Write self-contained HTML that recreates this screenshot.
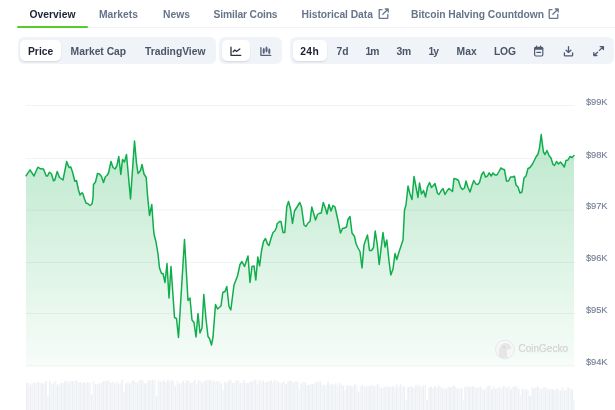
<!DOCTYPE html>
<html><head><meta charset="utf-8">
<style>
*{margin:0;padding:0;box-sizing:border-box}
html,body{width:615px;height:410px;overflow:hidden;background:#fff}
body{position:relative;font-family:"Liberation Sans",Arial,sans-serif;-webkit-font-smoothing:antialiased}
.t{position:absolute;white-space:nowrap;line-height:1;font-weight:700}
.tab{font-size:10.3px;top:9.9px;color:#677489}
.tab.on{color:#1b2131}
.grp{position:absolute;top:37.3px;height:26.6px;background:#f0f3f8;border-radius:6px}
.btn{position:absolute;top:40.4px;height:20.6px;background:#fff;border-radius:5px;box-shadow:0 1px 1.5px rgba(16,24,40,.12)}
.b{font-size:10.3px;top:47.4px;color:#4b5567}
.b.on{color:#1b2131}
.ax{position:absolute;left:586px;font-size:9.3px;letter-spacing:-0.1px;line-height:1;color:#77829a;-webkit-text-stroke:0.15px #77829a;white-space:nowrap}
svg{position:absolute;left:0;top:0}
</style></head><body>
<!-- tabs -->
<span class="t tab on" style="left:29.6px">Overview</span>
<span class="t tab" style="left:99px">Markets</span>
<span class="t tab" style="left:163px">News</span>
<span class="t tab" style="left:213.6px;letter-spacing:-0.15px">Similar Coins</span>
<span class="t tab" style="left:301.6px;letter-spacing:-0.06px">Historical Data</span>
<span class="t tab" style="left:411px;letter-spacing:-0.06px">Bitcoin Halving Countdown</span>
<div style="position:absolute;left:88px;top:27px;width:527px;height:1px;background:#f2f3f6"></div>
<div style="position:absolute;left:17.2px;top:25.8px;width:70.8px;height:2px;background:#56cc2b;border-radius:1px"></div>

<!-- groups -->
<div class="grp" style="left:17.5px;width:198.5px"></div>
<div class="btn" style="left:20px;width:40.5px"></div>
<span class="t b on" style="left:28px">Price</span>
<span class="t b" style="left:70.6px">Market Cap</span>
<span class="t b" style="left:145px">TradingView</span>

<div class="grp" style="left:219.4px;width:62.6px"></div>
<div class="btn" style="left:222.4px;width:27.6px"></div>

<div class="grp" style="left:290.4px;width:324px"></div>
<div class="btn" style="left:293px;width:33.6px"></div>
<span class="t b on" style="left:300.2px;letter-spacing:0.4px">24h</span>
<span class="t b" style="left:336.6px">7d</span>
<span class="t b" style="left:365.4px;letter-spacing:-0.9px">1m</span>
<span class="t b" style="left:396.4px">3m</span>
<span class="t b" style="left:428.4px;letter-spacing:-0.8px">1y</span>
<span class="t b" style="left:456.6px">Max</span>
<span class="t b" style="left:494px;letter-spacing:-0.2px">LOG</span>

<svg width="615" height="410" viewBox="0 0 615 410">
<defs>
<linearGradient id="g" x1="0" y1="134" x2="0" y2="366" gradientUnits="userSpaceOnUse">
<stop offset="0" stop-color="#00a83e" stop-opacity="0.26"/>
<stop offset="1" stop-color="#00a83e" stop-opacity="0.03"/>
</linearGradient>
</defs>
<!-- icons -->
<g fill="none" stroke-linecap="round" stroke-linejoin="round">
<path d="M379.2 9.7 H382 M379.2 9.7 V17.7 Q379.2 18.3 379.8 18.3 H387.2 Q387.8 18.3 387.8 17.7 V14.3 M382.8 14.3 L388.2 9 M385.3 9 H388.2 V12" stroke="#6a7790" stroke-width="1.3"/>
<path d="M549.2 9.7 H552 M549.2 9.7 V17.7 Q549.2 18.3 549.8 18.3 H557.2 Q557.8 18.3 557.8 17.7 V14.3 M552.8 14.3 L558.2 9 M555.3 9 H558.2 V12" stroke="#6a7790" stroke-width="1.3"/>
<path d="M231 47.2 V55.3 H240.8" stroke="#2a3142" stroke-width="1.3"/>
<path d="M233.2 51.7 L234.9 50 L236.6 51.4 L239.8 49" stroke="#2a3142" stroke-width="1.3"/>
<path d="M260.9 47.6 V55.3 H270.8" stroke="#56627a" stroke-width="1.3"/>
<path d="M263.7 48.2 V53.4 M266.5 46.9 V52.2 M269.3 48.7 V53.6" stroke="#56627a" stroke-width="0.8"/>
<path d="M263.7 49.6 V52.4 M266.5 48.1 V51 M269.3 50 V52.7" stroke="#56627a" stroke-width="2"/>
<path d="M564.4 52.8 V55.2 Q564.4 55.9 565.1 55.9 H571.9 Q572.6 55.9 572.6 55.2 V52.8 M568.5 46.6 V52.2 M566.1 50.2 L568.5 52.4 L570.9 50.2" stroke="#4f5b72" stroke-width="1.3"/>
<path d="M600.2 46.6 H603.4 V49.6 M603.2 46.8 L599.4 50.4 M593.8 52.6 V55.5 H596.9 M594 55.3 L597.6 52.2" stroke="#4f5b72" stroke-width="1.3"/>
</g>
<rect x="534.6" y="47.4" width="8.2" height="8.6" rx="1.2" fill="none" stroke="#4f5b72" stroke-width="1.2"/>
<rect x="534.2" y="47.2" width="9" height="2.6" rx="1" fill="#4f5b72"/>
<path d="M536.5 46 V48 M540.6 46 V48" stroke="#4f5b72" stroke-width="1.2" stroke-linecap="round"/>
<rect x="536.3" y="51.7" width="4.8" height="1.3" rx="0.5" fill="#4f5b72"/>

<!-- grid -->
<g fill="#f1f3f5">
<rect x="26" y="105" width="549" height="1"/>
<rect x="26" y="158" width="549" height="1"/>
<rect x="26" y="209.6" width="549" height="1"/>
<rect x="26" y="262" width="549" height="1"/>
<rect x="26" y="313" width="549" height="1"/>
<rect x="26" y="365.5" width="549" height="1"/>
</g>
<path d="M26 175.8 L30 169.8 L34 176 L37.8 167.2 L40.5 168.8 L43.5 169 L46.2 176 L47.5 176 L49.5 172.2 L51.5 174 L53.5 180.8 L54.8 180 L57.2 171.5 L59.5 177.5 L63 180 L66.7 161.5 L69 167.5 L70.8 167 L72.5 172 L74.8 181.2 L76.5 180.5 L78.5 190 L80 195 L82 192.8 L83 194 L84.5 199 L86 203 L88 203.8 L90 205.5 L92 204 L93 198 L93.5 184.5 L95.5 182 L97.5 173.5 L99.5 174 L101.5 176.5 L103.5 182.5 L105.5 176.5 L107 175.5 L108.5 173 L111 161.5 L113 167.5 L115 169 L116.8 166 L118.8 156.5 L120.8 174.5 L122.5 159.5 L124.5 162 L126.5 154.5 L130.5 199 L134.5 141 L136.5 163 L138 173.5 L140.5 170.5 L142 164.5 L144 174 L146.2 177.5 L147.5 195 L149.5 215.5 L151.8 204.5 L152.5 215 L153.5 229 L154 234 L156 242 L158 254 L159.5 268 L161.5 273.5 L163 273.5 L165 282.5 L167 263.5 L169 298 L171 266.5 L174.5 317.5 L176.5 318.5 L178.5 337.5 L184.5 239.5 L188 300.5 L190 298 L192 320 L194 322.5 L196 337 L198 313.5 L200 333 L202 328 L203.8 294.5 L206 319 L208 336.5 L209.5 338.5 L211.5 345 L213 337 L215.5 304.5 L217.5 309 L221 306 L222.8 292.5 L225 291.5 L226.8 286.5 L229 306.5 L230.8 310 L234 285 L237.5 276 L240 264.5 L242 261.5 L244.5 266.5 L248 256 L250 282.5 L252 266.5 L254 266 L255.8 280 L257.8 257 L259.6 265.8 L261.5 251 L263.5 241.5 L265.5 238.5 L267.5 244 L269 245.5 L271 238.5 L273 232.5 L274.8 231 L276.5 227.5 L277 224 L279.5 221.5 L281 221.5 L283 232.5 L284.8 232.5 L286.8 206.5 L288.5 201.5 L290.5 209 L292.5 223.5 L294.5 211 L297 207 L299.8 202.5 L301.5 207 L304 225 L306 226.5 L308 223 L310 221.5 L311.8 207 L313.8 214 L315.5 220 L317.5 214.5 L319 213.5 L321.2 213 L323.3 202.5 L325.5 208.5 L327 214 L329 204.5 L331 211 L333 205.5 L335 207 L338 220.5 L340.5 233 L342.5 228.5 L344.5 228 L346.5 227 L348 219.5 L350 216.5 L352 233 L354.5 236.5 L356 243.5 L358 248 L360 251.5 L362 268 L364 245 L366 239 L367.5 235 L369.5 250.5 L371.5 250.5 L373.5 247.5 L375.2 231 L377.2 244 L379.2 264.5 L383 232.5 L385 247 L386.8 240 L389 261 L390.8 275 L393 269 L395 253.5 L396.8 259.5 L399 252 L401 246 L403 240 L404 220 L404.5 210 L406 205 L408 186 L410 194 L412 199.5 L414 176.5 L416 187 L418 197.5 L419.5 183 L421.5 194 L423.5 190.5 L425.5 197 L427.5 187 L429.5 182.5 L431.5 187.5 L433.5 185.5 L435 183.5 L437.5 193.5 L439 194.5 L441 191 L443 188.5 L445 194.5 L447 191 L449 188.5 L452.5 191.5 L454 178.5 L456 179 L458.5 180.5 L460.5 187 L462.5 189.5 L464.5 188 L466 181 L468 187.5 L470 192 L472 185.5 L473.8 180.5 L475.8 184 L477.8 184.5 L479.5 182.5 L481.5 175 L483.5 171.8 L485.5 177 L487.5 176 L489.2 172.8 L491.2 176 L493 173 L495 175 L497 175 L499 171.5 L500.8 168 L502.5 169 L504.5 169.8 L506.5 181 L508.5 181 L510.5 177 L512.5 177 L514.5 176.2 L516 185 L518 187 L520 193 L522 192 L524 178 L526 176 L528 168.5 L530 167.5 L532.5 164 L534 161 L536 157 L538 154 L539.5 148 L541.2 134.5 L542.5 145 L543.5 152 L545 154.5 L547 150.5 L549 155.5 L551 158 L553 164.5 L554.5 165.5 L556.5 161.5 L558.5 164 L560.5 162 L562.5 164.5 L564.3 167 L566 160.5 L568 160 L570 156.5 L572 157.5 L574 155.5 L574 366 L26 366 Z" fill="url(#g)"/>

<!-- watermark -->
<g>
<circle cx="504.9" cy="349.5" r="9.4" fill="#f6f7f6" stroke="#e6e7e6" stroke-width="0.9"/>
<path d="M499 356.5 Q498 347 502.5 344 Q506.5 341.8 509.5 344.8 L511.8 348.2 Q509.5 349.6 507 349.4 Q506.3 353.5 508 357.6 Q503 359.2 499 356.5 Z" fill="#e5e6e5"/>
<circle cx="504" cy="347.2" r="1" fill="#d2d3d2"/>
</g>
<text x="518.5" y="352.3" font-family="Liberation Sans, Arial, sans-serif" font-size="10" fill="#d3d4d3" stroke="#d3d4d3" stroke-width="0.25">CoinGecko</text>
<path d="M26 175.8 L30 169.8 L34 176 L37.8 167.2 L40.5 168.8 L43.5 169 L46.2 176 L47.5 176 L49.5 172.2 L51.5 174 L53.5 180.8 L54.8 180 L57.2 171.5 L59.5 177.5 L63 180 L66.7 161.5 L69 167.5 L70.8 167 L72.5 172 L74.8 181.2 L76.5 180.5 L78.5 190 L80 195 L82 192.8 L83 194 L84.5 199 L86 203 L88 203.8 L90 205.5 L92 204 L93 198 L93.5 184.5 L95.5 182 L97.5 173.5 L99.5 174 L101.5 176.5 L103.5 182.5 L105.5 176.5 L107 175.5 L108.5 173 L111 161.5 L113 167.5 L115 169 L116.8 166 L118.8 156.5 L120.8 174.5 L122.5 159.5 L124.5 162 L126.5 154.5 L130.5 199 L134.5 141 L136.5 163 L138 173.5 L140.5 170.5 L142 164.5 L144 174 L146.2 177.5 L147.5 195 L149.5 215.5 L151.8 204.5 L152.5 215 L153.5 229 L154 234 L156 242 L158 254 L159.5 268 L161.5 273.5 L163 273.5 L165 282.5 L167 263.5 L169 298 L171 266.5 L174.5 317.5 L176.5 318.5 L178.5 337.5 L184.5 239.5 L188 300.5 L190 298 L192 320 L194 322.5 L196 337 L198 313.5 L200 333 L202 328 L203.8 294.5 L206 319 L208 336.5 L209.5 338.5 L211.5 345 L213 337 L215.5 304.5 L217.5 309 L221 306 L222.8 292.5 L225 291.5 L226.8 286.5 L229 306.5 L230.8 310 L234 285 L237.5 276 L240 264.5 L242 261.5 L244.5 266.5 L248 256 L250 282.5 L252 266.5 L254 266 L255.8 280 L257.8 257 L259.6 265.8 L261.5 251 L263.5 241.5 L265.5 238.5 L267.5 244 L269 245.5 L271 238.5 L273 232.5 L274.8 231 L276.5 227.5 L277 224 L279.5 221.5 L281 221.5 L283 232.5 L284.8 232.5 L286.8 206.5 L288.5 201.5 L290.5 209 L292.5 223.5 L294.5 211 L297 207 L299.8 202.5 L301.5 207 L304 225 L306 226.5 L308 223 L310 221.5 L311.8 207 L313.8 214 L315.5 220 L317.5 214.5 L319 213.5 L321.2 213 L323.3 202.5 L325.5 208.5 L327 214 L329 204.5 L331 211 L333 205.5 L335 207 L338 220.5 L340.5 233 L342.5 228.5 L344.5 228 L346.5 227 L348 219.5 L350 216.5 L352 233 L354.5 236.5 L356 243.5 L358 248 L360 251.5 L362 268 L364 245 L366 239 L367.5 235 L369.5 250.5 L371.5 250.5 L373.5 247.5 L375.2 231 L377.2 244 L379.2 264.5 L383 232.5 L385 247 L386.8 240 L389 261 L390.8 275 L393 269 L395 253.5 L396.8 259.5 L399 252 L401 246 L403 240 L404 220 L404.5 210 L406 205 L408 186 L410 194 L412 199.5 L414 176.5 L416 187 L418 197.5 L419.5 183 L421.5 194 L423.5 190.5 L425.5 197 L427.5 187 L429.5 182.5 L431.5 187.5 L433.5 185.5 L435 183.5 L437.5 193.5 L439 194.5 L441 191 L443 188.5 L445 194.5 L447 191 L449 188.5 L452.5 191.5 L454 178.5 L456 179 L458.5 180.5 L460.5 187 L462.5 189.5 L464.5 188 L466 181 L468 187.5 L470 192 L472 185.5 L473.8 180.5 L475.8 184 L477.8 184.5 L479.5 182.5 L481.5 175 L483.5 171.8 L485.5 177 L487.5 176 L489.2 172.8 L491.2 176 L493 173 L495 175 L497 175 L499 171.5 L500.8 168 L502.5 169 L504.5 169.8 L506.5 181 L508.5 181 L510.5 177 L512.5 177 L514.5 176.2 L516 185 L518 187 L520 193 L522 192 L524 178 L526 176 L528 168.5 L530 167.5 L532.5 164 L534 161 L536 157 L538 154 L539.5 148 L541.2 134.5 L542.5 145 L543.5 152 L545 154.5 L547 150.5 L549 155.5 L551 158 L553 164.5 L554.5 165.5 L556.5 161.5 L558.5 164 L560.5 162 L562.5 164.5 L564.3 167 L566 160.5 L568 160 L570 156.5 L572 157.5 L574 155.5" fill="none" stroke="#10ad4c" stroke-width="1.5" stroke-linejoin="round" stroke-linecap="round"/>
<rect x="26.00" y="382.8" width="1.71" height="27.2" fill="#eceff3"/>
<rect x="27.91" y="383.2" width="1.71" height="26.8" fill="#f2f4f7"/>
<rect x="29.81" y="384.6" width="1.71" height="25.4" fill="#eceff3"/>
<rect x="31.72" y="382.8" width="1.71" height="27.2" fill="#f2f4f7"/>
<rect x="33.62" y="382.9" width="1.71" height="27.1" fill="#eceff3"/>
<rect x="35.53" y="383.2" width="1.71" height="26.8" fill="#f2f4f7"/>
<rect x="37.44" y="381.6" width="1.71" height="28.4" fill="#eceff3"/>
<rect x="39.34" y="382.9" width="1.71" height="27.1" fill="#f2f4f7"/>
<rect x="41.25" y="383.3" width="1.71" height="26.7" fill="#eceff3"/>
<rect x="43.16" y="383.9" width="1.71" height="26.1" fill="#f2f4f7"/>
<rect x="45.06" y="381.1" width="1.71" height="28.9" fill="#eceff3"/>
<rect x="46.97" y="396.0" width="1.71" height="14.0" fill="#f2f4f7"/>
<rect x="48.88" y="381.1" width="1.71" height="28.9" fill="#eceff3"/>
<rect x="50.78" y="383.9" width="1.71" height="26.1" fill="#f2f4f7"/>
<rect x="52.69" y="383.4" width="1.71" height="26.6" fill="#eceff3"/>
<rect x="54.59" y="380.8" width="1.71" height="29.2" fill="#f2f4f7"/>
<rect x="56.50" y="384.5" width="1.71" height="25.5" fill="#eceff3"/>
<rect x="58.41" y="384.4" width="1.71" height="25.6" fill="#f2f4f7"/>
<rect x="60.31" y="383.2" width="1.71" height="26.8" fill="#eceff3"/>
<rect x="62.22" y="383.0" width="1.71" height="27.0" fill="#f2f4f7"/>
<rect x="64.12" y="381.1" width="1.71" height="28.9" fill="#eceff3"/>
<rect x="66.03" y="380.5" width="1.71" height="29.5" fill="#f2f4f7"/>
<rect x="67.94" y="382.6" width="1.71" height="27.4" fill="#eceff3"/>
<rect x="69.84" y="380.7" width="1.71" height="29.3" fill="#f2f4f7"/>
<rect x="71.75" y="381.2" width="1.71" height="28.8" fill="#eceff3"/>
<rect x="73.66" y="381.3" width="1.71" height="28.7" fill="#f2f4f7"/>
<rect x="75.56" y="380.5" width="1.71" height="29.5" fill="#eceff3"/>
<rect x="77.47" y="382.2" width="1.71" height="27.8" fill="#f2f4f7"/>
<rect x="79.38" y="382.1" width="1.71" height="27.9" fill="#eceff3"/>
<rect x="81.28" y="383.6" width="1.71" height="26.4" fill="#f2f4f7"/>
<rect x="83.19" y="382.3" width="1.71" height="27.7" fill="#eceff3"/>
<rect x="85.09" y="382.8" width="1.71" height="27.2" fill="#f2f4f7"/>
<rect x="87.00" y="382.2" width="1.71" height="27.8" fill="#eceff3"/>
<rect x="88.91" y="382.8" width="1.71" height="27.2" fill="#f2f4f7"/>
<rect x="90.81" y="395.0" width="1.71" height="15.0" fill="#eceff3"/>
<rect x="92.72" y="381.2" width="1.71" height="28.8" fill="#f2f4f7"/>
<rect x="94.62" y="384.1" width="1.71" height="25.9" fill="#eceff3"/>
<rect x="96.53" y="384.1" width="1.71" height="25.9" fill="#f2f4f7"/>
<rect x="98.44" y="383.4" width="1.71" height="26.6" fill="#eceff3"/>
<rect x="100.34" y="382.9" width="1.71" height="27.1" fill="#f2f4f7"/>
<rect x="102.25" y="381.3" width="1.71" height="28.7" fill="#eceff3"/>
<rect x="104.16" y="380.9" width="1.71" height="29.1" fill="#f2f4f7"/>
<rect x="106.06" y="381.1" width="1.71" height="28.9" fill="#eceff3"/>
<rect x="107.97" y="380.2" width="1.71" height="29.8" fill="#f2f4f7"/>
<rect x="109.88" y="383.0" width="1.71" height="27.0" fill="#eceff3"/>
<rect x="111.78" y="381.5" width="1.71" height="28.5" fill="#f2f4f7"/>
<rect x="113.69" y="383.2" width="1.71" height="26.8" fill="#eceff3"/>
<rect x="115.59" y="381.4" width="1.71" height="28.6" fill="#f2f4f7"/>
<rect x="117.50" y="383.6" width="1.71" height="26.4" fill="#eceff3"/>
<rect x="119.41" y="383.2" width="1.71" height="26.8" fill="#f2f4f7"/>
<rect x="121.31" y="379.7" width="1.71" height="30.3" fill="#eceff3"/>
<rect x="123.22" y="392.0" width="1.71" height="18.0" fill="#f2f4f7"/>
<rect x="125.12" y="383.3" width="1.71" height="26.7" fill="#eceff3"/>
<rect x="127.03" y="381.6" width="1.71" height="28.4" fill="#f2f4f7"/>
<rect x="128.94" y="383.6" width="1.71" height="26.4" fill="#eceff3"/>
<rect x="130.84" y="381.2" width="1.71" height="28.8" fill="#f2f4f7"/>
<rect x="132.75" y="379.9" width="1.71" height="30.1" fill="#eceff3"/>
<rect x="134.66" y="382.1" width="1.71" height="27.9" fill="#f2f4f7"/>
<rect x="136.56" y="382.7" width="1.71" height="27.3" fill="#eceff3"/>
<rect x="138.47" y="380.6" width="1.71" height="29.4" fill="#f2f4f7"/>
<rect x="140.38" y="379.8" width="1.71" height="30.2" fill="#eceff3"/>
<rect x="142.28" y="380.8" width="1.71" height="29.2" fill="#f2f4f7"/>
<rect x="144.19" y="383.4" width="1.71" height="26.6" fill="#eceff3"/>
<rect x="146.09" y="382.5" width="1.71" height="27.5" fill="#f2f4f7"/>
<rect x="148.00" y="380.0" width="1.71" height="30.0" fill="#eceff3"/>
<rect x="149.91" y="380.5" width="1.71" height="29.5" fill="#f2f4f7"/>
<rect x="151.81" y="379.9" width="1.71" height="30.1" fill="#eceff3"/>
<rect x="153.72" y="379.7" width="1.71" height="30.3" fill="#f2f4f7"/>
<rect x="155.62" y="396.0" width="1.71" height="14.0" fill="#eceff3"/>
<rect x="157.53" y="380.2" width="1.71" height="29.8" fill="#f2f4f7"/>
<rect x="159.44" y="381.7" width="1.71" height="28.3" fill="#eceff3"/>
<rect x="161.34" y="381.3" width="1.71" height="28.7" fill="#f2f4f7"/>
<rect x="163.25" y="380.3" width="1.71" height="29.7" fill="#eceff3"/>
<rect x="165.16" y="382.4" width="1.71" height="27.6" fill="#f2f4f7"/>
<rect x="167.06" y="380.0" width="1.71" height="30.0" fill="#eceff3"/>
<rect x="168.97" y="382.1" width="1.71" height="27.9" fill="#f2f4f7"/>
<rect x="170.88" y="380.0" width="1.71" height="30.0" fill="#eceff3"/>
<rect x="172.78" y="381.2" width="1.71" height="28.8" fill="#f2f4f7"/>
<rect x="174.69" y="386.0" width="1.71" height="24.0" fill="#eceff3"/>
<rect x="176.59" y="380.6" width="1.71" height="29.4" fill="#f2f4f7"/>
<rect x="178.50" y="383.4" width="1.71" height="26.6" fill="#eceff3"/>
<rect x="180.41" y="382.7" width="1.71" height="27.3" fill="#f2f4f7"/>
<rect x="182.31" y="380.7" width="1.71" height="29.3" fill="#eceff3"/>
<rect x="184.22" y="383.0" width="1.71" height="27.0" fill="#f2f4f7"/>
<rect x="186.12" y="380.3" width="1.71" height="29.7" fill="#eceff3"/>
<rect x="188.03" y="381.1" width="1.71" height="28.9" fill="#f2f4f7"/>
<rect x="189.94" y="382.9" width="1.71" height="27.1" fill="#eceff3"/>
<rect x="191.84" y="382.1" width="1.71" height="27.9" fill="#f2f4f7"/>
<rect x="193.75" y="379.9" width="1.71" height="30.1" fill="#eceff3"/>
<rect x="195.66" y="383.5" width="1.71" height="26.5" fill="#f2f4f7"/>
<rect x="197.56" y="380.4" width="1.71" height="29.6" fill="#eceff3"/>
<rect x="199.47" y="380.5" width="1.71" height="29.5" fill="#f2f4f7"/>
<rect x="201.38" y="382.6" width="1.71" height="27.4" fill="#eceff3"/>
<rect x="203.28" y="380.8" width="1.71" height="29.2" fill="#f2f4f7"/>
<rect x="205.19" y="380.7" width="1.71" height="29.3" fill="#eceff3"/>
<rect x="207.09" y="379.8" width="1.71" height="30.2" fill="#f2f4f7"/>
<rect x="209.00" y="379.9" width="1.71" height="30.1" fill="#eceff3"/>
<rect x="210.91" y="381.8" width="1.71" height="28.2" fill="#f2f4f7"/>
<rect x="212.81" y="380.5" width="1.71" height="29.5" fill="#eceff3"/>
<rect x="214.72" y="381.9" width="1.71" height="28.1" fill="#f2f4f7"/>
<rect x="216.62" y="381.0" width="1.71" height="29.0" fill="#eceff3"/>
<rect x="218.53" y="381.3" width="1.71" height="28.7" fill="#f2f4f7"/>
<rect x="220.44" y="383.3" width="1.71" height="26.7" fill="#eceff3"/>
<rect x="222.34" y="390.0" width="1.71" height="20.0" fill="#f2f4f7"/>
<rect x="224.25" y="381.8" width="1.71" height="28.2" fill="#eceff3"/>
<rect x="226.16" y="383.0" width="1.71" height="27.0" fill="#f2f4f7"/>
<rect x="228.06" y="380.2" width="1.71" height="29.8" fill="#eceff3"/>
<rect x="229.97" y="380.1" width="1.71" height="29.9" fill="#f2f4f7"/>
<rect x="231.88" y="383.1" width="1.71" height="26.9" fill="#eceff3"/>
<rect x="233.78" y="382.8" width="1.71" height="27.2" fill="#f2f4f7"/>
<rect x="235.69" y="380.5" width="1.71" height="29.5" fill="#eceff3"/>
<rect x="237.59" y="380.3" width="1.71" height="29.7" fill="#f2f4f7"/>
<rect x="239.50" y="382.5" width="1.71" height="27.5" fill="#eceff3"/>
<rect x="241.41" y="383.3" width="1.71" height="26.7" fill="#f2f4f7"/>
<rect x="243.31" y="380.3" width="1.71" height="29.7" fill="#eceff3"/>
<rect x="245.22" y="383.3" width="1.71" height="26.7" fill="#f2f4f7"/>
<rect x="247.12" y="383.0" width="1.71" height="27.0" fill="#eceff3"/>
<rect x="249.03" y="381.9" width="1.71" height="28.1" fill="#f2f4f7"/>
<rect x="250.94" y="381.2" width="1.71" height="28.8" fill="#eceff3"/>
<rect x="252.84" y="379.9" width="1.71" height="30.1" fill="#f2f4f7"/>
<rect x="254.75" y="379.7" width="1.71" height="30.3" fill="#eceff3"/>
<rect x="256.66" y="383.4" width="1.71" height="26.6" fill="#f2f4f7"/>
<rect x="258.56" y="380.5" width="1.71" height="29.5" fill="#eceff3"/>
<rect x="260.47" y="382.3" width="1.71" height="27.7" fill="#f2f4f7"/>
<rect x="262.38" y="380.5" width="1.71" height="29.5" fill="#eceff3"/>
<rect x="264.28" y="382.8" width="1.71" height="27.2" fill="#f2f4f7"/>
<rect x="266.19" y="382.0" width="1.71" height="28.0" fill="#eceff3"/>
<rect x="268.09" y="380.9" width="1.71" height="29.1" fill="#f2f4f7"/>
<rect x="270.00" y="380.5" width="1.71" height="29.5" fill="#eceff3"/>
<rect x="271.91" y="382.7" width="1.71" height="27.3" fill="#f2f4f7"/>
<rect x="273.81" y="380.2" width="1.71" height="29.8" fill="#eceff3"/>
<rect x="275.72" y="380.9" width="1.71" height="29.1" fill="#f2f4f7"/>
<rect x="277.62" y="382.3" width="1.71" height="27.7" fill="#eceff3"/>
<rect x="279.53" y="383.5" width="1.71" height="26.5" fill="#f2f4f7"/>
<rect x="281.44" y="382.6" width="1.71" height="27.4" fill="#eceff3"/>
<rect x="283.34" y="381.4" width="1.71" height="28.6" fill="#f2f4f7"/>
<rect x="285.25" y="384.0" width="1.71" height="26.0" fill="#eceff3"/>
<rect x="287.16" y="381.2" width="1.71" height="28.8" fill="#f2f4f7"/>
<rect x="289.06" y="380.5" width="1.71" height="29.5" fill="#eceff3"/>
<rect x="290.97" y="381.6" width="1.71" height="28.4" fill="#f2f4f7"/>
<rect x="292.88" y="382.4" width="1.71" height="27.6" fill="#eceff3"/>
<rect x="294.78" y="380.9" width="1.71" height="29.1" fill="#f2f4f7"/>
<rect x="296.69" y="381.4" width="1.71" height="28.6" fill="#eceff3"/>
<rect x="298.59" y="389.0" width="1.71" height="21.0" fill="#f2f4f7"/>
<rect x="300.50" y="383.2" width="1.71" height="26.8" fill="#eceff3"/>
<rect x="302.41" y="381.5" width="1.71" height="28.5" fill="#f2f4f7"/>
<rect x="304.31" y="382.5" width="1.71" height="27.5" fill="#eceff3"/>
<rect x="306.22" y="384.6" width="1.71" height="25.4" fill="#f2f4f7"/>
<rect x="308.12" y="385.1" width="1.71" height="24.9" fill="#eceff3"/>
<rect x="310.03" y="383.8" width="1.71" height="26.2" fill="#f2f4f7"/>
<rect x="311.94" y="384.1" width="1.71" height="25.9" fill="#eceff3"/>
<rect x="313.84" y="383.7" width="1.71" height="26.3" fill="#f2f4f7"/>
<rect x="315.75" y="382.0" width="1.71" height="28.0" fill="#eceff3"/>
<rect x="317.66" y="381.6" width="1.71" height="28.4" fill="#f2f4f7"/>
<rect x="319.56" y="381.6" width="1.71" height="28.4" fill="#eceff3"/>
<rect x="321.47" y="385.3" width="1.71" height="24.7" fill="#f2f4f7"/>
<rect x="323.38" y="384.5" width="1.71" height="25.5" fill="#eceff3"/>
<rect x="325.28" y="385.6" width="1.71" height="24.4" fill="#f2f4f7"/>
<rect x="327.19" y="381.9" width="1.71" height="28.1" fill="#eceff3"/>
<rect x="329.09" y="384.5" width="1.71" height="25.5" fill="#f2f4f7"/>
<rect x="331.00" y="383.9" width="1.71" height="26.1" fill="#eceff3"/>
<rect x="332.91" y="385.0" width="1.71" height="25.0" fill="#f2f4f7"/>
<rect x="334.81" y="383.4" width="1.71" height="26.6" fill="#eceff3"/>
<rect x="336.72" y="386.2" width="1.71" height="23.8" fill="#f2f4f7"/>
<rect x="338.62" y="382.6" width="1.71" height="27.4" fill="#eceff3"/>
<rect x="340.53" y="384.5" width="1.71" height="25.5" fill="#f2f4f7"/>
<rect x="342.44" y="385.4" width="1.71" height="24.6" fill="#eceff3"/>
<rect x="344.34" y="390.0" width="1.71" height="20.0" fill="#f2f4f7"/>
<rect x="346.25" y="385.5" width="1.71" height="24.5" fill="#eceff3"/>
<rect x="348.16" y="385.4" width="1.71" height="24.6" fill="#f2f4f7"/>
<rect x="350.06" y="385.9" width="1.71" height="24.1" fill="#eceff3"/>
<rect x="351.97" y="386.4" width="1.71" height="23.6" fill="#f2f4f7"/>
<rect x="353.88" y="384.2" width="1.71" height="25.8" fill="#eceff3"/>
<rect x="355.78" y="385.6" width="1.71" height="24.4" fill="#f2f4f7"/>
<rect x="357.69" y="392.0" width="1.71" height="18.0" fill="#eceff3"/>
<rect x="359.59" y="386.5" width="1.71" height="23.5" fill="#f2f4f7"/>
<rect x="361.50" y="384.8" width="1.71" height="25.2" fill="#eceff3"/>
<rect x="363.41" y="386.3" width="1.71" height="23.7" fill="#f2f4f7"/>
<rect x="365.31" y="386.7" width="1.71" height="23.3" fill="#eceff3"/>
<rect x="367.22" y="385.6" width="1.71" height="24.4" fill="#f2f4f7"/>
<rect x="369.12" y="385.9" width="1.71" height="24.1" fill="#eceff3"/>
<rect x="371.03" y="385.0" width="1.71" height="25.0" fill="#f2f4f7"/>
<rect x="372.94" y="385.9" width="1.71" height="24.1" fill="#eceff3"/>
<rect x="374.84" y="386.0" width="1.71" height="24.0" fill="#f2f4f7"/>
<rect x="376.75" y="384.0" width="1.71" height="26.0" fill="#eceff3"/>
<rect x="378.66" y="386.3" width="1.71" height="23.7" fill="#f2f4f7"/>
<rect x="380.56" y="387.8" width="1.71" height="22.2" fill="#eceff3"/>
<rect x="382.47" y="387.4" width="1.71" height="22.6" fill="#f2f4f7"/>
<rect x="384.38" y="386.9" width="1.71" height="23.1" fill="#eceff3"/>
<rect x="386.28" y="385.6" width="1.71" height="24.4" fill="#f2f4f7"/>
<rect x="388.19" y="387.0" width="1.71" height="23.0" fill="#eceff3"/>
<rect x="390.09" y="386.4" width="1.71" height="23.6" fill="#f2f4f7"/>
<rect x="392.00" y="385.9" width="1.71" height="24.1" fill="#eceff3"/>
<rect x="393.91" y="387.5" width="1.71" height="22.5" fill="#f2f4f7"/>
<rect x="395.81" y="384.5" width="1.71" height="25.5" fill="#eceff3"/>
<rect x="397.72" y="387.2" width="1.71" height="22.8" fill="#f2f4f7"/>
<rect x="399.62" y="384.3" width="1.71" height="25.7" fill="#eceff3"/>
<rect x="401.53" y="386.7" width="1.71" height="23.3" fill="#f2f4f7"/>
<rect x="403.44" y="386.2" width="1.71" height="23.8" fill="#eceff3"/>
<rect x="405.34" y="400.0" width="1.71" height="10.0" fill="#f2f4f7"/>
<rect x="407.25" y="387.1" width="1.71" height="22.9" fill="#eceff3"/>
<rect x="409.16" y="386.4" width="1.71" height="23.6" fill="#f2f4f7"/>
<rect x="411.06" y="386.9" width="1.71" height="23.1" fill="#eceff3"/>
<rect x="412.97" y="388.1" width="1.71" height="21.9" fill="#f2f4f7"/>
<rect x="414.88" y="385.5" width="1.71" height="24.5" fill="#eceff3"/>
<rect x="416.78" y="384.5" width="1.71" height="25.5" fill="#f2f4f7"/>
<rect x="418.69" y="385.7" width="1.71" height="24.3" fill="#eceff3"/>
<rect x="420.59" y="387.3" width="1.71" height="22.7" fill="#f2f4f7"/>
<rect x="422.50" y="385.4" width="1.71" height="24.6" fill="#eceff3"/>
<rect x="424.41" y="385.3" width="1.71" height="24.7" fill="#f2f4f7"/>
<rect x="426.31" y="400.0" width="1.71" height="10.0" fill="#eceff3"/>
<rect x="428.22" y="387.3" width="1.71" height="22.7" fill="#f2f4f7"/>
<rect x="430.12" y="386.5" width="1.71" height="23.5" fill="#eceff3"/>
<rect x="432.03" y="388.3" width="1.71" height="21.7" fill="#f2f4f7"/>
<rect x="433.94" y="386.1" width="1.71" height="23.9" fill="#eceff3"/>
<rect x="435.84" y="387.5" width="1.71" height="22.5" fill="#f2f4f7"/>
<rect x="437.75" y="385.6" width="1.71" height="24.4" fill="#eceff3"/>
<rect x="439.66" y="386.6" width="1.71" height="23.4" fill="#f2f4f7"/>
<rect x="441.56" y="388.1" width="1.71" height="21.9" fill="#eceff3"/>
<rect x="443.47" y="388.6" width="1.71" height="21.4" fill="#f2f4f7"/>
<rect x="445.38" y="388.5" width="1.71" height="21.5" fill="#eceff3"/>
<rect x="447.28" y="386.5" width="1.71" height="23.5" fill="#f2f4f7"/>
<rect x="449.19" y="387.4" width="1.71" height="22.6" fill="#eceff3"/>
<rect x="451.09" y="386.3" width="1.71" height="23.7" fill="#f2f4f7"/>
<rect x="453.00" y="385.6" width="1.71" height="24.4" fill="#eceff3"/>
<rect x="454.91" y="387.1" width="1.71" height="22.9" fill="#f2f4f7"/>
<rect x="456.81" y="388.5" width="1.71" height="21.5" fill="#eceff3"/>
<rect x="458.72" y="388.6" width="1.71" height="21.4" fill="#f2f4f7"/>
<rect x="460.62" y="388.1" width="1.71" height="21.9" fill="#eceff3"/>
<rect x="462.53" y="400.0" width="1.71" height="10.0" fill="#f2f4f7"/>
<rect x="464.44" y="386.4" width="1.71" height="23.6" fill="#eceff3"/>
<rect x="466.34" y="386.0" width="1.71" height="24.0" fill="#f2f4f7"/>
<rect x="468.25" y="387.1" width="1.71" height="22.9" fill="#eceff3"/>
<rect x="470.16" y="386.5" width="1.71" height="23.5" fill="#f2f4f7"/>
<rect x="472.06" y="386.3" width="1.71" height="23.7" fill="#eceff3"/>
<rect x="473.97" y="387.1" width="1.71" height="22.9" fill="#f2f4f7"/>
<rect x="475.88" y="388.0" width="1.71" height="22.0" fill="#eceff3"/>
<rect x="477.78" y="387.5" width="1.71" height="22.5" fill="#f2f4f7"/>
<rect x="479.69" y="386.8" width="1.71" height="23.2" fill="#eceff3"/>
<rect x="481.59" y="388.9" width="1.71" height="21.1" fill="#f2f4f7"/>
<rect x="483.50" y="389.5" width="1.71" height="20.5" fill="#eceff3"/>
<rect x="485.41" y="387.4" width="1.71" height="22.6" fill="#f2f4f7"/>
<rect x="487.31" y="385.9" width="1.71" height="24.1" fill="#eceff3"/>
<rect x="489.22" y="385.8" width="1.71" height="24.2" fill="#f2f4f7"/>
<rect x="491.12" y="389.2" width="1.71" height="20.8" fill="#eceff3"/>
<rect x="493.03" y="385.9" width="1.71" height="24.1" fill="#f2f4f7"/>
<rect x="494.94" y="388.6" width="1.71" height="21.4" fill="#eceff3"/>
<rect x="496.84" y="388.1" width="1.71" height="21.9" fill="#f2f4f7"/>
<rect x="498.75" y="387.1" width="1.71" height="22.9" fill="#eceff3"/>
<rect x="500.66" y="389.0" width="1.71" height="21.0" fill="#f2f4f7"/>
<rect x="502.56" y="386.0" width="1.71" height="24.0" fill="#eceff3"/>
<rect x="504.47" y="386.5" width="1.71" height="23.5" fill="#f2f4f7"/>
<rect x="506.38" y="387.8" width="1.71" height="22.2" fill="#eceff3"/>
<rect x="508.28" y="386.1" width="1.71" height="23.9" fill="#f2f4f7"/>
<rect x="510.19" y="389.3" width="1.71" height="20.7" fill="#eceff3"/>
<rect x="512.09" y="387.0" width="1.71" height="23.0" fill="#f2f4f7"/>
<rect x="514.00" y="386.6" width="1.71" height="23.4" fill="#eceff3"/>
<rect x="515.91" y="386.3" width="1.71" height="23.7" fill="#f2f4f7"/>
<rect x="517.81" y="388.7" width="1.71" height="21.3" fill="#eceff3"/>
<rect x="519.72" y="395.0" width="1.71" height="15.0" fill="#f2f4f7"/>
<rect x="521.62" y="388.7" width="1.71" height="21.3" fill="#eceff3"/>
<rect x="523.53" y="388.8" width="1.71" height="21.2" fill="#f2f4f7"/>
<rect x="525.44" y="389.5" width="1.71" height="20.5" fill="#eceff3"/>
<rect x="527.34" y="390.1" width="1.71" height="19.9" fill="#f2f4f7"/>
<rect x="529.25" y="396.0" width="1.71" height="14.0" fill="#eceff3"/>
<rect x="531.16" y="387.1" width="1.71" height="22.9" fill="#f2f4f7"/>
<rect x="533.06" y="388.3" width="1.71" height="21.7" fill="#eceff3"/>
<rect x="534.97" y="387.1" width="1.71" height="22.9" fill="#f2f4f7"/>
<rect x="536.88" y="386.5" width="1.71" height="23.5" fill="#eceff3"/>
<rect x="538.78" y="388.3" width="1.71" height="21.7" fill="#f2f4f7"/>
<rect x="540.69" y="389.3" width="1.71" height="20.7" fill="#eceff3"/>
<rect x="542.59" y="387.2" width="1.71" height="22.8" fill="#f2f4f7"/>
<rect x="544.50" y="387.6" width="1.71" height="22.4" fill="#eceff3"/>
<rect x="546.41" y="387.9" width="1.71" height="22.1" fill="#f2f4f7"/>
<rect x="548.31" y="389.4" width="1.71" height="20.6" fill="#eceff3"/>
<rect x="550.22" y="388.7" width="1.71" height="21.3" fill="#f2f4f7"/>
<rect x="552.12" y="389.1" width="1.71" height="20.9" fill="#eceff3"/>
<rect x="554.03" y="389.7" width="1.71" height="20.3" fill="#f2f4f7"/>
<rect x="555.94" y="388.3" width="1.71" height="21.7" fill="#eceff3"/>
<rect x="557.84" y="389.9" width="1.71" height="20.1" fill="#f2f4f7"/>
<rect x="559.75" y="390.4" width="1.71" height="19.6" fill="#eceff3"/>
<rect x="561.66" y="387.1" width="1.71" height="22.9" fill="#f2f4f7"/>
<rect x="563.56" y="390.6" width="1.71" height="19.4" fill="#eceff3"/>
<rect x="565.47" y="389.7" width="1.71" height="20.3" fill="#f2f4f7"/>
<rect x="567.38" y="387.4" width="1.71" height="22.6" fill="#eceff3"/>
<rect x="569.28" y="388.7" width="1.71" height="21.3" fill="#f2f4f7"/>
<rect x="571.19" y="389.4" width="1.71" height="20.6" fill="#eceff3"/>
<rect x="573.09" y="400.0" width="1.71" height="10.0" fill="#f2f4f7"/>
</svg>
<span class="ax" style="top:98px">$99K</span>
<span class="ax" style="top:151px">$98K</span>
<span class="ax" style="top:202px">$97K</span>
<span class="ax" style="top:254px">$96K</span>
<span class="ax" style="top:306px">$95K</span>
<span class="ax" style="top:358px">$94K</span>
</body></html>
